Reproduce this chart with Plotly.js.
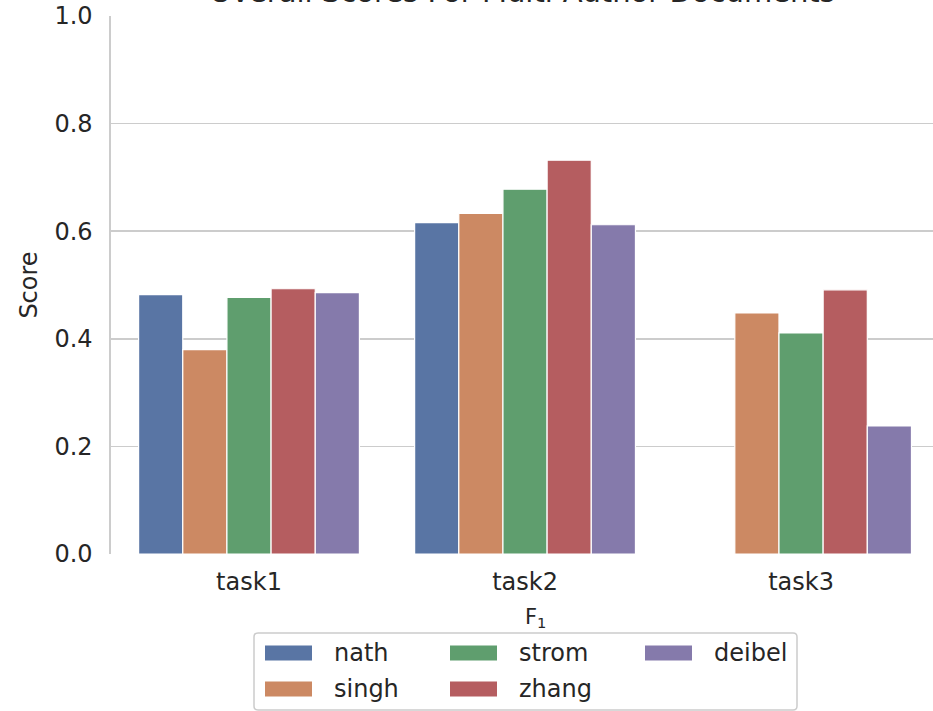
<!DOCTYPE html>
<html>
<head>
<meta charset="utf-8">
<script src="https://cdn.plot.ly/plotly-3.0.1.min.js"></script>
<style>html,body{margin:0;padding:0;background:#fff;overflow:hidden}</style>
</head>
<body>
<div id="chart" style="width:933px;height:711px"></div>
<script>
const categories = ["task1", "task2", "task3"];
const seriesNames = ["nath", "singh", "strom", "zhang", "deibel"];
const nath   = [0.482, 0.616, null];
const singh  = [0.380, 0.633, 0.448];
const strom  = [0.477, 0.678, 0.411];
const zhang  = [0.493, 0.732, 0.491];
const deibel = [0.486, 0.612, 0.238];
const seriesValues = [nath, singh, strom, zhang, deibel];
const colors = ["#5975a4", "#cc8963", "#5f9e6e", "#b55d60", "#857aab"];
const yTicks = [0, 0.2, 0.4, 0.6, 0.8, 1.0];
const yTickText = ["0.0", "0.2", "0.4", "0.6", "0.8", "1.0"];
const chartTitle = "Overall Scores For Multi-Author Documents";
const legendTitle = "F<sub>1</sub>";

const textColor = "#262626";
const font = "DejaVu Sans, sans-serif";

// plot area geometry (pixels)
const W = 933, H = 711;
const M = {l: 111, r: 0, t: 16, b: 157};
const PW = W - M.l - M.r, PH = H - M.t - M.b;
const xp = px => (px - M.l) / PW;
const yp = py => (M.t + PH - py) / PH;

const traces = seriesNames.map((name, i) => ({
  type: "bar",
  name: name,
  x: categories,
  y: seriesValues[i],
  marker: {color: colors[i], line: {color: "#ffffff", width: 1.2}},
  showlegend: false,
  hoverinfo: "x+y+name"
}));

// legend (matplotlib-style, column-major, 3 columns x 2 rows)
const legBox = {x0: 254, x1: 797, y0: 633, y1: 710, r: 4};
const colSwatchX = [265, 450, 645];
const colTextX = [333, 518, 713];
const rowY = [653, 689];
const swW = 47, swH = 15;

const shapes = [];
const annotations = [];
{
  const X0 = xp(legBox.x0), X1 = xp(legBox.x1), Y0 = yp(legBox.y1), Y1 = yp(legBox.y0);
  const rx = legBox.r / PW, ry = legBox.r / PH;
  const path = `M${X0+rx},${Y1} L${X1-rx},${Y1} Q${X1},${Y1} ${X1},${Y1-ry} L${X1},${Y0+ry} Q${X1},${Y0} ${X1-rx},${Y0} L${X0+rx},${Y0} Q${X0},${Y0} ${X0},${Y0+ry} L${X0},${Y1-ry} Q${X0},${Y1} ${X0+rx},${Y1} Z`;
  shapes.push({type: "path", xref: "paper", yref: "paper", path: path,
    line: {color: "#cccccc", width: 1.5}, fillcolor: "rgba(255,255,255,0.8)", layer: "above"});
}
seriesNames.forEach((name, i) => {
  const col = Math.floor(i / 2), row = i % 2;
  const sx = colSwatchX[col], cy = rowY[row];
  shapes.push({type: "rect", xref: "paper", yref: "paper",
    x0: xp(sx), x1: xp(sx + swW), y0: yp(cy + swH / 2), y1: yp(cy - swH / 2),
    fillcolor: colors[i], line: {width: 0}, layer: "above"});
  annotations.push({text: name, xref: "paper", yref: "paper",
    x: xp(colTextX[col]), y: yp(cy), xanchor: "left", yanchor: "middle",
    showarrow: false, borderpad: 0,
    font: {family: font, size: 24, color: textColor}});
});

annotations.push({
  text: chartTitle,
  xref: "paper", yref: "paper",
  x: 0.5, y: 1, xanchor: "center", yanchor: "bottom",
  yshift: 5,
  showarrow: false,
  font: {family: font, size: 29, color: textColor}
});
annotations.push({
  text: legendTitle,
  xref: "paper", yref: "paper",
  x: xp(535), y: yp(618),
  xanchor: "center", yanchor: "middle",
  showarrow: false,
  font: {family: font, size: 21, color: textColor}
});

const layout = {
  width: W, height: H,
  margin: M,
  paper_bgcolor: "#ffffff",
  plot_bgcolor: "#ffffff",
  font: {family: font, color: textColor, size: 24},
  barmode: "group",
  bargap: 0.2,
  bargroupgap: 0,
  showlegend: false,
  xaxis: {
    type: "category",
    range: [-0.5, 2.478],
    showgrid: false,
    zeroline: false,
    showline: false,
    ticks: "",
    ticklabelstandoff: 11,
    tickfont: {family: font, size: 24, color: textColor}
  },
  yaxis: {
    range: [0, 1.0],
    tickvals: yTicks,
    ticktext: yTickText,
    showgrid: true,
    gridcolor: "#cccccc",
    gridwidth: 1.6,
    zeroline: false,
    showline: true,
    linecolor: "#cccccc",
    linewidth: 1.6,
    ticks: "",
    ticklabelstandoff: 12,
    tickfont: {family: font, size: 24, color: textColor},
    title: {text: "Score", font: {family: font, size: 24, color: textColor}, standoff: 10}
  },
  shapes: shapes,
  annotations: annotations
};

Plotly.newPlot("chart", traces, layout, {displayModeBar: false, staticPlot: true});
</script>
</body>
</html>
